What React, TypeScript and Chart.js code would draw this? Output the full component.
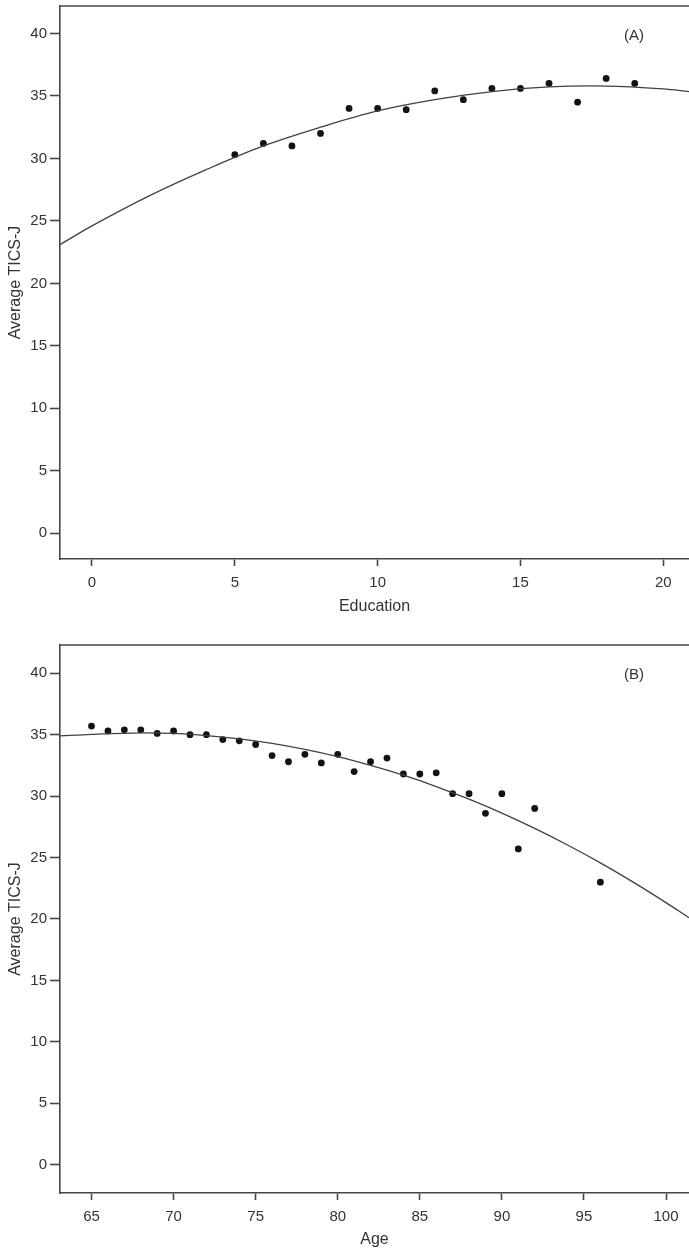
import React, { useEffect, useRef } from "react";
import { Chart, registerables } from "chart.js";

Chart.register(...registerables);

// ---------- Panel A: Education ----------
const educationYears = [5, 6, 7, 8, 9, 10, 11, 12, 13, 14, 15, 16, 17, 18, 19];
const educationScores = [30.3, 31.2, 31.0, 32.0, 34.0, 34.0, 33.9, 35.4, 34.7, 35.6, 35.6, 36.0, 34.5, 36.4, 36.0];
const educationFitX = [-1.12, 0, 2, 4, 6, 8, 10, 12, 14, 16, 18, 20, 20.9];
const educationFitY = [23.1, 24.6, 27.0, 29.1, 31.0, 32.5, 33.8, 34.7, 35.35, 35.72, 35.79, 35.57, 35.35];
const educationTicks = [0, 5, 10, 15, 20];

// ---------- Panel B: Age ----------
const ages = [65, 66, 67, 68, 69, 70, 71, 72, 73, 74, 75, 76, 77, 78, 79, 80, 81, 82, 83, 84, 85, 86, 87, 88, 89, 90, 91, 92, 96];
const ageScores = [35.7, 35.3, 35.4, 35.4, 35.1, 35.3, 35.0, 35.0, 34.6, 34.5, 34.2, 33.3, 32.8, 33.4, 32.7, 33.4, 32.0, 32.8, 33.1, 31.8, 31.8, 31.9, 30.2, 30.2, 28.6, 30.2, 25.7, 29.0, 23.0];
const ageFitX = [63.08, 65, 68, 70, 72, 74, 76, 78, 80, 82, 84, 86, 88, 90, 92, 94, 96, 98, 100, 101.4];
const ageFitY = [34.9, 35.03, 35.15, 35.1, 34.93, 34.66, 34.29, 33.8, 33.21, 32.5, 31.7, 30.78, 29.75, 28.62, 27.37, 26.02, 24.57, 23.0, 21.33, 20.1];
const ageTicks = [65, 70, 75, 80, 85, 90, 95, 100];

const scoreTicks = [0, 5, 10, 15, 20, 25, 30, 35, 40];
const yTitle = "Average TICS-J";

const FONT = "'Liberation Sans', Arial, sans-serif";
const TEXT = "#333333";
const LINE = "#464646";

const framePlugin = {
  id: "frameTop",
  afterDraw(chart: any, _args: any, opts: any) {
    const { ctx, chartArea } = chart;
    ctx.save();
    ctx.strokeStyle = LINE;
    ctx.lineWidth = 1.6;
    ctx.beginPath();
    ctx.moveTo(chartArea.left, chartArea.top);
    ctx.lineTo(chartArea.right, chartArea.top);
    ctx.stroke();
    ctx.font = `15px ${FONT}`;
    ctx.fillStyle = TEXT;
    ctx.textAlign = "center";
    ctx.textBaseline = "middle";
    ctx.fillText(opts.text, opts.x, opts.y);
    ctx.restore();
  },
};

type PanelProps = {
  label: string;
  xTitle: string;
  xs: number[];
  ys: number[];
  fitX: number[];
  fitY: number[];
  xTicks: number[];
  xMin: number;
  xMax: number;
  yMin: number;
  yMax: number;
  top: number;
  height: number;
  padTop: number;
  xAxisHeight: number;
  titlePadBottom: number;
  labelY: number;
};

function Panel(p: PanelProps) {
  const ref = useRef<HTMLCanvasElement | null>(null);
  useEffect(() => {
    if (!ref.current) return;
    const chart = new Chart(ref.current, {
      type: "scatter",
      data: {
        datasets: [
          {
            label: "fit",
            data: p.fitX.map((x, i) => ({ x, y: p.fitY[i] })),
            showLine: true,
            borderColor: "#404040",
            borderWidth: 1.3,
            pointRadius: 0,
            tension: 0.35,
            fill: false,
          },
          {
            label: "mean",
            data: p.xs.map((x, i) => ({ x, y: p.ys[i] })),
            showLine: false,
            pointRadius: 3.4,
            pointBackgroundColor: "#121212",
            pointBorderColor: "#121212",
            pointBorderWidth: 0,
          },
        ],
      },
      options: {
        responsive: false,
        animation: false,
        devicePixelRatio: 1,
        layout: { autoPadding: false, padding: { top: p.padTop, left: 0, right: 0, bottom: 0 } },
        plugins: {
          legend: { display: false },
          tooltip: { enabled: false },
          frameTop: { text: p.label, x: 634, y: p.labelY },
        } as any,
        scales: {
          x: {
            type: "linear",
            min: p.xMin,
            max: p.xMax,
            afterBuildTicks: (s: any) => {
              s.ticks = p.xTicks.map((v) => ({ value: v }));
            },
            afterFit: (s: any) => {
              s.height = p.xAxisHeight;
              s.paddingLeft = 0;
              s.paddingRight = 0;
              s.paddingTop = 0;
              s.paddingBottom = 0;
            },
            border: { display: true, color: LINE, width: 1.6 },
            grid: { drawOnChartArea: false, drawTicks: true, tickLength: 7, tickColor: LINE, tickWidth: 1.6 },
            ticks: { color: TEXT, font: { family: FONT, size: 15 }, padding: 8, maxRotation: 0 },
            title: {
              display: true,
              text: p.xTitle,
              color: TEXT,
              font: { family: FONT, size: 16 },
              padding: { top: 0, bottom: p.titlePadBottom },
            },
          },
          y: {
            type: "linear",
            min: p.yMin,
            max: p.yMax,
            afterBuildTicks: (s: any) => {
              s.ticks = scoreTicks.map((v) => ({ value: v }));
            },
            afterFit: (s: any) => {
              s.width = 60;
              s.paddingLeft = 0;
              s.paddingRight = 0;
              s.paddingTop = 0;
              s.paddingBottom = 0;
            },
            border: { display: true, color: LINE, width: 1.6 },
            grid: { drawOnChartArea: false, drawTicks: true, tickLength: 10, tickColor: LINE, tickWidth: 1.6 },
            ticks: { color: TEXT, font: { family: FONT, size: 15 }, padding: 3 },
            title: {
              display: true,
              text: yTitle,
              color: TEXT,
              font: { family: FONT, size: 16 },
              padding: { top: 6, bottom: 0 },
            },
          },
        },
      },
      plugins: [framePlugin],
    });
    return () => chart.destroy();
  }, []);
  return (
    <canvas
      ref={ref}
      width={689}
      height={p.height}
      style={{ position: "absolute", left: 0, top: p.top, width: 689, height: p.height, display: "block" }}
    />
  );
}

export default function App() {
  return (
    <div
      style={{
        position: "absolute",
        left: 0,
        top: 0,
        width: 689,
        height: 1253,
        overflow: "hidden",
        background: "#ffffff",
      }}
    >
      <Panel
        label="(A)"
        xTitle="Education"
        xs={educationYears}
        ys={educationScores}
        fitX={educationFitX}
        fitY={educationFitY}
        xTicks={educationTicks}
        xMin={-1.12}
        xMax={20.9}
        yMin={-2.06}
        yMax={42.2}
        top={0}
        height={630}
        padTop={6}
        xAxisHeight={71}
        titlePadBottom={14}
        labelY={36}
      />
      <Panel
        label="(B)"
        xTitle="Age"
        xs={ages}
        ys={ageScores}
        fitX={ageFitX}
        fitY={ageFitY}
        xTicks={ageTicks}
        xMin={63.08}
        xMax={101.4}
        yMin={-2.3}
        yMax={42.3}
        top={630}
        height={623}
        padTop={15}
        xAxisHeight={60}
        titlePadBottom={4}
        labelY={45}
      />
    </div>
  );
}
